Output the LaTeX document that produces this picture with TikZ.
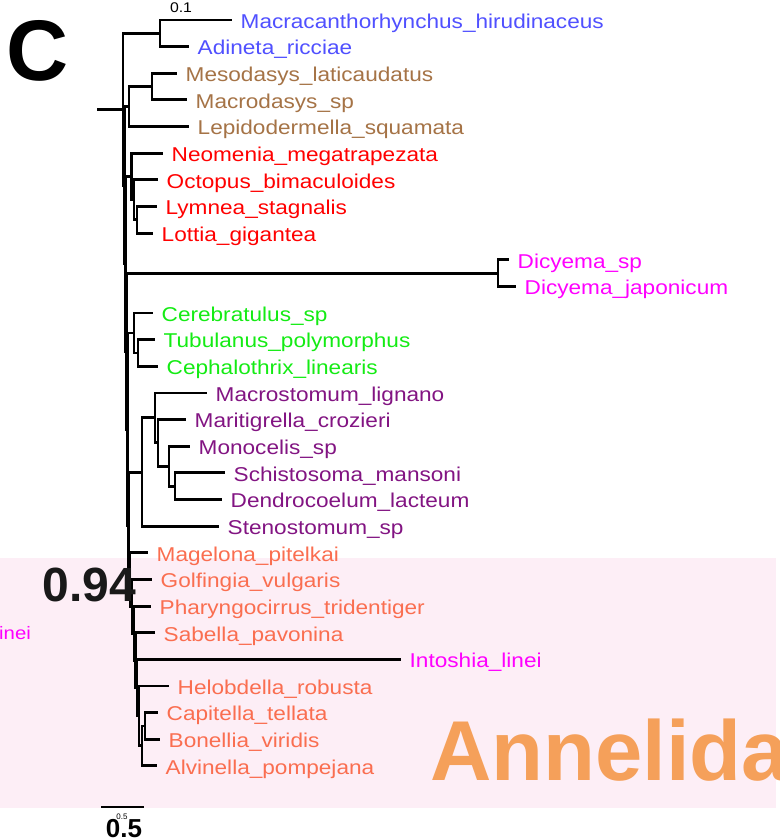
\documentclass[tikz,border=0pt]{standalone}
\usepackage{fontspec}
\setmainfont{Liberation Sans}
\newfontfamily\labfont[FakeStretch=1.13]{Liberation Sans}
\definecolor{cBlue}{RGB}{80,80,255}
\definecolor{cBrown}{RGB}{165,115,70}
\definecolor{cRed}{RGB}{255,0,0}
\definecolor{cMag}{RGB}{255,0,255}
\definecolor{cGreen}{RGB}{20,235,20}
\definecolor{cPurple}{RGB}{130,20,130}
\definecolor{cCoral}{RGB}{250,110,80}
\definecolor{cPink}{RGB}{253,238,246}
\definecolor{cOrange}{RGB}{245,160,90}
\newcommand\leafnode[5]{%
  \coordinate (#1) at (#2,{20+(#3-1)*26.64});
  \node[lab,text=#4] (#1t) at ([xshift=8.5pt,yshift=-8.3pt]#1) {#5};}
\begin{document}
\begin{tikzpicture}[x=1pt,y=-1pt,
  br/.style={line width=2.9pt,line join=miter,draw=black},
  lab/.style={anchor=base west,inner sep=0pt,font=\labfont\fontsize{20}{20}\selectfont}]
\useasboundingbox (0,0) rectangle (779,840);
\clip (0,0) rectangle (779,840);
\fill[cPink] (0,558) rectangle (776,808);
% leaves
\leafnode{L1}{232}{1}{cBlue}{Macracanthorhynchus\_hirudinaceus}
\leafnode{L2}{189}{2}{cBlue}{Adineta\_ricciae}
\leafnode{L3}{177}{3}{cBrown}{Mesodasys\_laticaudatus}
\leafnode{L4}{187}{4}{cBrown}{Macrodasys\_sp}
\leafnode{L5}{189}{5}{cBrown}{Lepidodermella\_squamata}
\leafnode{L6}{163}{6}{cRed}{Neomenia\_megatrapezata}
\leafnode{L7}{158}{7}{cRed}{Octopus\_bimaculoides}
\leafnode{L8}{157}{8}{cRed}{Lymnea\_stagnalis}
\leafnode{L9}{153}{9}{cRed}{Lottia\_gigantea}
\leafnode{L10}{509}{10}{cMag}{Dicyema\_sp}
\leafnode{L11}{516}{11}{cMag}{Dicyema\_japonicum}
\leafnode{L12}{153}{12}{cGreen}{Cerebratulus\_sp}
\leafnode{L13}{155}{13}{cGreen}{Tubulanus\_polymorphus}
\leafnode{L14}{158}{14}{cGreen}{Cephalothrix\_linearis}
\leafnode{L15}{207}{15}{cPurple}{Macrostomum\_lignano}
\leafnode{L16}{186}{16}{cPurple}{Maritigrella\_crozieri}
\leafnode{L17}{190}{17}{cPurple}{Monocelis\_sp}
\leafnode{L18}{225}{18}{cPurple}{Schistosoma\_mansoni}
\leafnode{L19}{222}{19}{cPurple}{Dendrocoelum\_lacteum}
\leafnode{L20}{219}{20}{cPurple}{Stenostomum\_sp}
\leafnode{L21}{148}{21}{cCoral}{Magelona\_pitelkai}
\leafnode{L22}{152}{22}{cCoral}{Golfingia\_vulgaris}
\leafnode{L23}{151}{23}{cCoral}{Pharyngocirrus\_tridentiger}
\leafnode{L24}{155}{24}{cCoral}{Sabella\_pavonina}
\leafnode{L25}{401}{25}{cMag}{Intoshia\_linei}
\leafnode{L26}{169}{26}{cCoral}{Helobdella\_robusta}
\leafnode{L27}{158}{27}{cCoral}{Capitella\_tellata}
\leafnode{L28}{160}{28}{cCoral}{Bonellia\_viridis}
\leafnode{L29}{157}{29}{cCoral}{Alvinella\_pompejana}
% internal nodes
\coordinate (root) at (97,109.28);
\coordinate (R) at (123,109.28);
\coordinate (Rot) at (160,33.32);
\coordinate (B1) at (124.5,185.23);
\coordinate (G) at (129,106.58);
\coordinate (Gm) at (152,86.6);
\coordinate (B2) at (125.5,263.88);
\coordinate (M1) at (131.5,176.51);
\coordinate (M2) at (134,199.82);
\coordinate (M3) at (137,219.8);
\coordinate (B3) at (126.5,351.25);
\coordinate (D) at (498,273.08);
\coordinate (B4) at (127.5,429.41);
\coordinate (N1) at (134,333.02);
\coordinate (N2) at (138,353);
\coordinate (B5) at (128.5,525.8);
\coordinate (P1) at (142,472.05);
\coordinate (P2) at (155,417.94);
\coordinate (P3) at (158,442.91);
\coordinate (P4) at (169,466.22);
\coordinate (P5) at (175,486.2);
\coordinate (A1) at (130,579.54);
\coordinate (A2) at (132,606.29);
\coordinate (A3) at (134,633.14);
\coordinate (A4) at (135.5,660.19);
\coordinate (A5) at (137,687.67);
\coordinate (A6) at (139,715.97);
\coordinate (A7) at (142,745.94);
\coordinate (A8) at (145,725.96);
% edges
\draw[br] (root) -- (R);
\draw[br] (R) |- (Rot); \draw[br] (R) |- (B1);
\draw[br] (Rot) |- (L1); \draw[br] (Rot) |- (L2);
\draw[br] (B1) |- (G); \draw[br] (B1) |- (B2);
\draw[br] (G) |- (Gm); \draw[br] (G) |- (L5);
\draw[br] (Gm) |- (L3); \draw[br] (Gm) |- (L4);
\draw[br] (B2) |- (M1); \draw[br] (B2) |- (B3);
\draw[br] (M1) |- (L6); \draw[br] (M1) |- (M2);
\draw[br] (M2) |- (L7); \draw[br] (M2) |- (M3);
\draw[br] (M3) |- (L8); \draw[br] (M3) |- (L9);
\draw[br] (B3) |- (D); \draw[br] (B3) |- (B4);
\draw[br] (D) |- (L10); \draw[br] (D) |- (L11);
\draw[br] (B4) |- (N1); \draw[br] (B4) |- (B5);
\draw[br] (N1) |- (L12); \draw[br] (N1) |- (N2);
\draw[br] (N2) |- (L13); \draw[br] (N2) |- (L14);
\draw[br] (B5) |- (P1); \draw[br] (B5) |- (A1);
\draw[br] (P1) |- (P2); \draw[br] (P1) |- (L20);
\draw[br] (P2) |- (L15); \draw[br] (P2) |- (P3);
\draw[br] (P3) |- (L16); \draw[br] (P3) |- (P4);
\draw[br] (P4) |- (L17); \draw[br] (P4) |- (P5);
\draw[br] (P5) |- (L18); \draw[br] (P5) |- (L19);
\draw[br] (A1) |- (L21); \draw[br] (A1) |- (A2);
\draw[br] (A2) |- (L22); \draw[br] (A2) |- (A3);
\draw[br] (A3) |- (L23); \draw[br] (A3) |- (A4);
\draw[br] (A4) |- (L24); \draw[br] (A4) |- (A5);
\draw[br] (A5) |- (L25); \draw[br] (A5) |- (A6);
\draw[br] (A6) |- (L26); \draw[br] (A6) |- (A7);
\draw[br] (A7) |- (A8); \draw[br] (A7) |- (L29);
\draw[br] (A8) |- (L27); \draw[br] (A8) |- (L28);
% annotations
\node[inner sep=0pt,font=\labfont\fontsize{14}{14}\selectfont] (lab01) at (181,8) {0.1};
\node[inner sep=0pt,font=\bfseries\fontsize{86}{86}\selectfont] (panelC) at (38,51) {C};
\node[inner sep=0pt,text=black!90,font=\bfseries\fontsize{48}{48}\selectfont] (supp) at (89.5,585) {0.94};
\node[anchor=base west,inner sep=0pt,text=cMag,font=\labfont\fontsize{18}{18}\selectfont] (inei) at (-1,639) {inei};
\node[anchor=base west,inner sep=0pt,text=cOrange,font=\bfseries\fontsize{85}{85}\selectfont] (annelida) at (430,780) {Annelida};
\coordinate (sb1) at (101,807);
\coordinate (sb2) at (144,807);
\draw[line width=1.2pt] (sb1) -- (sb2);
\node[inner sep=0pt,font=\fontsize{8}{8}\selectfont] (sbsmall) at (122,817) {0.5};
\node[inner sep=0pt,font=\bfseries\fontsize{26}{26}\selectfont] (sbbig) at (124,829) {0.5};
\end{tikzpicture}
\end{document}
